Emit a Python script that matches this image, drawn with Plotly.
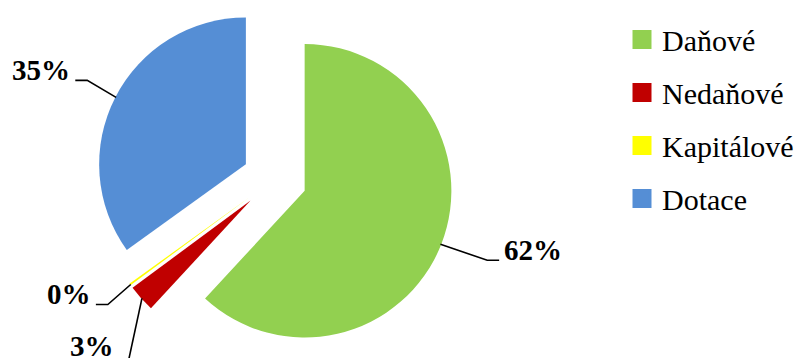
import math
import plotly.graph_objects as go

# Revenue structure (share of total)
categories = ["Daňové", "Nedaňové", "Kapitálové", "Dotace"]
values = [62, 3, 0.2, 35]
colors = ["#92D050", "#C00000", "#FFFF00", "#558ED5"]
pulls = [0.22, 0.22, 0.22, 0.22]

W, H = 799, 358
dom_x = [0.1154, 0.5754]
dom_y = [0.0, 1.0]

FONT = "Liberation Serif"

fig = go.Figure()
fig.add_trace(go.Pie(
    labels=categories,
    values=values,
    marker=dict(colors=colors, line=dict(width=0)),
    pull=pulls,
    sort=False,
    direction="clockwise",
    rotation=0,
    textinfo="none",
    hoverinfo="label+percent",
    showlegend=False,
    domain=dict(x=dom_x, y=dom_y),
))

# legend swatches (square markers, outline in the same colour to enlarge them)
for name, col in zip(categories, colors):
    fig.add_trace(go.Scatter(
        x=[None], y=[None], mode="markers", name=name, legendgroup=name,
        marker=dict(symbol="square", size=16, color=col, line=dict(color=col, width=3)),
    ))

# pie geometry, same rules plotly uses for sizing the pie
cx = W * (dom_x[0] + dom_x[1]) / 2
cy = H * (1 - (dom_y[0] + dom_y[1]) / 2)
r = min(W * (dom_x[1] - dom_x[0]) / 2, H * (dom_y[1] - dom_y[0]) / 2) / (1 + max(pulls))
total = sum(values)

# leader line style per label: elbow offset from slice edge, horizontal run, text side
leader = [
    dict(elbow=(47, 16), run=12, side="right"),
    dict(elbow=(-13, 60), run=0, side="below"),
    dict(elbow=(-23, 20), run=-12, side="left"),
    dict(elbow=(-29, -17), run=-12, side="left"),
]

def px_to_paper(x, y):
    return x / W, 1 - y / H

start = 0.0
for val, p, st in zip(values, pulls, leader):
    span = val / total * 360
    mid = math.radians(start + span / 2)
    start += span
    ux, uy = math.sin(mid), -math.cos(mid)
    ex, ey = cx + r * (1 + p) * ux, cy + r * (1 + p) * uy
    bx, by = ex + st["elbow"][0], ey + st["elbow"][1]
    tx, ty = bx + st["run"], by
    pts = [px_to_paper(ex, ey), px_to_paper(bx, by), px_to_paper(tx, ty)]
    path = "M {:.5f} {:.5f} L {:.5f} {:.5f} L {:.5f} {:.5f}".format(
        pts[0][0], pts[0][1], pts[1][0], pts[1][1], pts[2][0], pts[2][1])
    fig.add_shape(type="path", path=path, xref="paper", yref="paper",
                  line=dict(color="black", width=1.6))
    label = "{:.0f}%".format(round(val / total * 100))
    if st["side"] == "right":
        ax, ay, xa = tx + 3, ty - 10, "left"
    elif st["side"] == "left":
        ax, ay, xa = tx - 3, ty - 10, "right"
    else:
        ax, ay, xa = tx - 13, ty - 12, "right"
    axp, ayp = px_to_paper(ax, ay)
    fig.add_annotation(x=axp, y=ayp, xref="paper", yref="paper", text="<b>" + label + "</b>",
                       showarrow=False, xanchor=xa, yanchor="middle",
                       font=dict(family=FONT, size=29, color="black"))

fig.update_layout(
    width=W, height=H,
    margin=dict(l=0, r=0, t=0, b=0),
    paper_bgcolor="white", plot_bgcolor="white",
    font=dict(family=FONT, color="black"),
    xaxis=dict(visible=False), yaxis=dict(visible=False),
    showlegend=True,
    legend=dict(x=0.7825, y=0.962, xanchor="left", yanchor="top",
                font=dict(family=FONT, size=30, color="black"),
                tracegroupgap=11, bgcolor="rgba(0,0,0,0)"),
)

fig.write_html("out.html")
